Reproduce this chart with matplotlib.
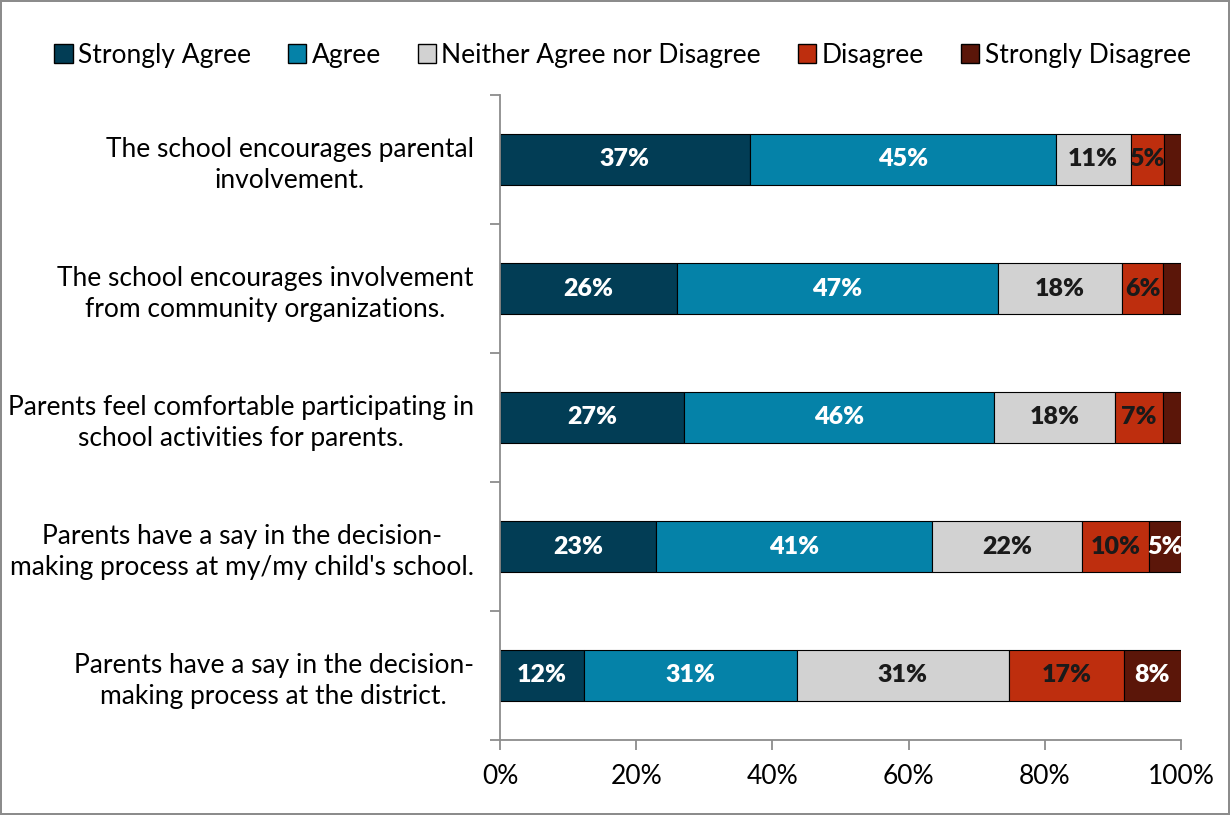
import matplotlib.pyplot as plt
from matplotlib.patches import Patch
import numpy as np

questions = [
    "The school encourages parental\ninvolvement.",
    "The school encourages involvement\nfrom community organizations.",
    "Parents feel comfortable participating in\nschool activities for parents.",
    "Parents have a say in the decision-\nmaking process at my/my child's school.",
    "Parents have a say in the decision-\nmaking process at the district.",
]
responses = ["Strongly Agree", "Agree", "Neither Agree nor Disagree", "Disagree", "Strongly Disagree"]

strongly_agree = [36.7, 26.0, 27.0, 22.9, 12.3]
agree = [44.9, 47.1, 45.5, 40.6, 31.3]
neither = [11.0, 18.2, 17.8, 22.0, 31.1]
disagree = [4.9, 6.1, 7.1, 9.8, 16.9]
strongly_disagree = [2.5, 2.6, 2.6, 4.7, 8.4]

series = [strongly_agree, agree, neither, disagree, strongly_disagree]
colors = ["#023D55", "#0582A8", "#D2D2D2", "#BE2E0E", "#5B1609"]
text_colors = ["white", "white", "#1a1a1a", "#1a1a1a", "white"]

plt.rcParams['font.family'] = ['Lato', 'DejaVu Sans']
fs = 19

fig = plt.figure(figsize=(12.3, 8.15), dpi=100)
fig.patch.set_edgecolor('#8c8c8c')
fig.patch.set_linewidth(1.5)
ax = fig.add_axes([500 / 1230, 1 - 740 / 815, 681 / 1230, 645 / 815])

y = np.arange(len(questions))
left = np.zeros(len(questions))
for vals, col, tcol in zip(series, colors, text_colors):
    vals = np.array(vals)
    ax.barh(y, vals, left=left, height=0.4, color=col, edgecolor='black', linewidth=0.8)
    for yi, v, l in zip(y, vals, left):
        if v >= 4:
            ax.text(l + v / 2, yi, f"{round(v):.0f}%", ha='center', va='center',
                    color=tcol, fontsize=fs - 1, fontweight='heavy')
    left += vals

ax.set_xlim(0, 100)
ax.set_ylim(len(questions) - 0.5, -0.5)
ax.set_xticks(np.arange(0, 101, 20))
ax.set_xticklabels([f"{v}%" for v in range(0, 101, 20)], fontsize=fs)
ax.set_yticks(y)
ax.set_yticklabels(questions, fontsize=fs, linespacing=1.3)
for t in ax.get_yticklabels():
    t.set_multialignment('center')
ax.set_yticks(np.arange(-0.5, len(questions)), minor=True)
ax.tick_params(axis='y', which='major', length=0, pad=19)
ax.tick_params(axis='y', which='minor', length=7, color='#8c8c8c', width=1.3)
ax.tick_params(axis='x', length=7, color='#8c8c8c', width=1.3, pad=10)
for s in ['top', 'right']:
    ax.spines[s].set_visible(False)
for s in ['left', 'bottom']:
    ax.spines[s].set_color('#8c8c8c')
    ax.spines[s].set_linewidth(1.3)

handles = [Patch(facecolor=c, edgecolor='black', linewidth=1) for c in colors]
fig.legend(handles, responses, loc='center', bbox_to_anchor=(0.506, 0.932), ncol=5,
           frameon=False, fontsize=fs, handlelength=0.7, handleheight=0.7,
           handletextpad=0.2, columnspacing=1.4)

fig.savefig('out.png', dpi=100, edgecolor=fig.get_edgecolor())
